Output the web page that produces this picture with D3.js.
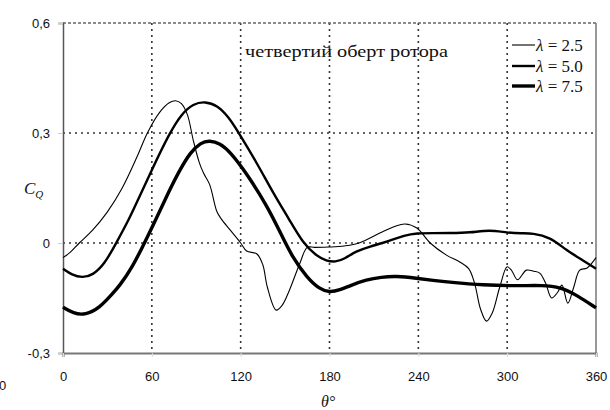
<!DOCTYPE html>
<html><head><meta charset="utf-8">
<script src="https://cdn.jsdelivr.net/npm/d3@7"></script>
<style>body{margin:0;background:#fff}svg{display:block}</style>
</head><body>
<svg id="c" width="610" height="410"></svg>
<script>
const xTicks = [0, 60, 120, 180, 240, 300, 360];
const yTicks = [-0.3, 0, 0.3, 0.6];
const yTickLabels = ["-0,3", "0", "0,3", "0,6"];
const seriesNames = ["λ = 2.5", "λ = 5.0", "λ = 7.5"];
const title = "четвертий оберт ротора";

const theta25 = [0,5,11,20,30,40,50,57,65,72,76,80,84,88,92,95,99,104,107,113,120,124,131,135,138,144,148,153,160,165,170,180,190,200,214,224,231,239,248,259,268,274,278,282,286,290,295,300,303,307,313,318,322,326,330,334,337,341,345,349,354,360];
const cq25 = [-0.04,-0.025,0,0.035,0.085,0.15,0.235,0.3,0.355,0.383,0.388,0.38,0.35,0.28,0.22,0.19,0.16,0.085,0.065,0.035,0.0,-0.022,-0.03,-0.06,-0.12,-0.183,-0.17,-0.128,-0.055,-0.012,-0.012,-0.011,-0.008,0.0,0.027,0.045,0.052,0.041,0.0,-0.033,-0.052,-0.07,-0.11,-0.18,-0.213,-0.19,-0.12,-0.065,-0.075,-0.1,-0.074,-0.077,-0.082,-0.11,-0.15,-0.135,-0.115,-0.164,-0.12,-0.074,-0.068,-0.04];

const theta50 = [0,6,13,20,28,36,45,50,60,72,80,88,96,104,112,118,131,142,153,162,171,178,184,190,198,207,216,223,230,239,250,261,275,288,300,310,317,329,340,351,360];
const cq50 = [-0.07,-0.087,-0.095,-0.088,-0.058,0,0.068,0.112,0.2,0.3,0.352,0.38,0.386,0.376,0.343,0.305,0.218,0.136,0.063,0.0,-0.035,-0.049,-0.052,-0.044,-0.022,-0.01,0.0,0.01,0.02,0.027,0.027,0.027,0.028,0.036,0.028,0.026,0.027,0.016,-0.02,-0.047,-0.07];

const theta75 = [0,7,15,25,33,38,47,55,62,72,79,86,93,99,106,113,124,138,146,155,165,173,180,187,194,205,215,225,239,250,261,284,306,324,336,347,360];
const cq75 = [-0.175,-0.192,-0.197,-0.176,-0.14,-0.118,-0.065,0,0.058,0.145,0.2,0.247,0.274,0.28,0.272,0.248,0.19,0.1,0.035,-0.04,-0.095,-0.125,-0.135,-0.128,-0.116,-0.1,-0.093,-0.09,-0.096,-0.102,-0.107,-0.115,-0.117,-0.115,-0.12,-0.142,-0.177];

const svg = d3.select("#c");
const L = 63, R = 596, T = 23, B = 353;
const x = d3.scaleLinear().domain([0, 360]).range([L, R]);
const y = d3.scaleLinear().domain([-0.3, 0.6]).range([B, T]);

// grid
const grid = svg.append("g").attr("stroke", "#333").attr("stroke-width", 1.6).attr("stroke-dasharray", "2,4");
grid.selectAll("line.v").data(xTicks.slice(1, -1)).join("line")
  .attr("x1", d => x(d)).attr("x2", d => x(d)).attr("y1", T).attr("y2", B);
grid.selectAll("line.h").data([0, 0.3]).join("line")
  .attr("x1", L).attr("x2", R).attr("y1", d => y(d)).attr("y2", d => y(d));
svg.append("line").attr("x1", L).attr("x2", R).attr("y1", T).attr("y2", T)
  .attr("stroke", "#666").attr("stroke-width", 1.5).attr("stroke-dasharray", "3,2");
svg.append("line").attr("x1", R).attr("x2", R).attr("y1", T).attr("y2", B)
  .attr("stroke", "#777").attr("stroke-width", 1.5);

// axes
const yAxis = d3.axisLeft(y).tickValues(yTicks).tickSize(5).tickPadding(8)
  .tickFormat((d, i) => yTickLabels[i]);
const gy = svg.append("g").attr("transform", `translate(${L},0)`).call(yAxis);
gy.select(".domain").attr("stroke", "#555").attr("stroke-width", 1.5);
gy.selectAll(".tick line").attr("stroke", "#ccc");
gy.selectAll("text").attr("font-family", "Liberation Sans, Arial, sans-serif").attr("font-size", 13).attr("fill", "#111");

const xAxis = d3.axisBottom(x).tickValues(xTicks).tickSize(4).tickPadding(15).tickFormat(d3.format("d"));
const gx = svg.append("g").attr("transform", `translate(0,${B})`).call(xAxis);
gx.select(".domain").attr("stroke", "#777").attr("stroke-width", 2);
gx.selectAll(".tick line").attr("stroke", "#ddd");
gx.selectAll("text").attr("font-family", "Liberation Sans, Arial, sans-serif").attr("font-size", 13).attr("fill", "#111");

// stray clipped label
svg.append("text").attr("x", -1).attr("y", 390).text("0")
  .attr("font-family", "Liberation Sans, Arial, sans-serif").attr("font-size", 13).attr("fill", "#111");

// curves
const lineThin = d3.line().x(d => x(d[0])).y(d => y(d[1])).curve(d3.curveCatmullRom.alpha(0.5));
const lineSmooth = d3.line().x(d => x(d[0])).y(d => y(d[1])).curve(d3.curveBasis);
const series = [
  {t: theta25, v: cq25, w: 1.1, gen: lineThin},
  {t: theta50, v: cq50, w: 2.4, gen: lineSmooth},
  {t: theta75, v: cq75, w: 3.4, gen: lineSmooth}
];
svg.append("g").selectAll("path").data(series).join("path")
  .attr("d", s => s.gen(s.t.map((t, i) => [t, s.v[i]])))
  .attr("fill", "none").attr("stroke", "#000").attr("stroke-width", s => s.w)
  .attr("stroke-linejoin", "round");

// legend
const lg = svg.append("g");
const ly = [45, 66, 86];
series.forEach((s, i) => {
  lg.append("line").attr("x1", 512).attr("x2", 535).attr("y1", ly[i]).attr("y2", ly[i])
    .attr("stroke", "#000").attr("stroke-width", s.w);
  const parts = seriesNames[i].split(" ");
  const t = lg.append("text").attr("x", 536).attr("y", ly[i] + 6)
    .attr("font-family", "Liberation Serif, Times New Roman, serif").attr("font-size", 17).attr("fill", "#111");
  t.append("tspan").attr("font-style", "italic").text(parts[0]);
  t.append("tspan").text(" " + parts.slice(1).join(" "));
});

// title
svg.append("text").attr("x", 245).attr("y", 57).text(title)
  .attr("textLength", 203).attr("lengthAdjust", "spacingAndGlyphs")
  .attr("font-family", "Liberation Serif, Times New Roman, serif").attr("font-size", 17.5).attr("fill", "#111");

// axis titles
const yl = svg.append("text").attr("x", 24).attr("y", 194)
  .attr("font-family", "Liberation Serif, Times New Roman, serif").attr("font-style", "italic").attr("fill", "#111");
yl.append("tspan").attr("font-size", 17).text("C");
yl.append("tspan").attr("font-size", 11).attr("dy", 4).text("Q");

svg.append("text").attr("x", 321).attr("y", 407)
  .attr("font-family", "Liberation Serif, Times New Roman, serif").attr("font-style", "italic").attr("font-size", 16).attr("fill", "#111")
  .text("θ°");
</script>
</body></html>
